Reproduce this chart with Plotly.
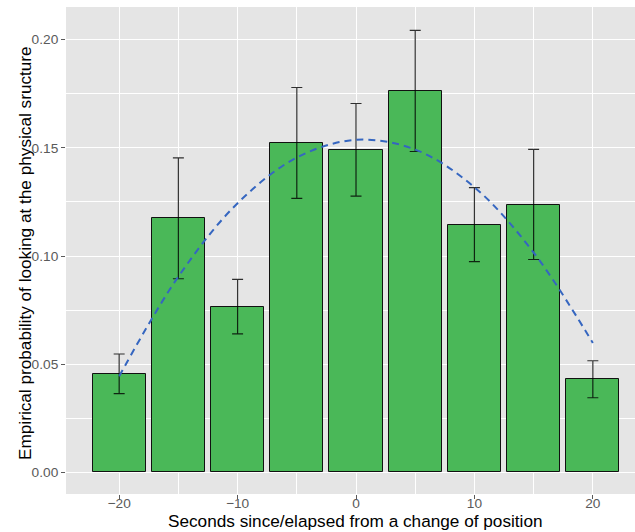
import plotly.graph_objects as go

# Time offset (seconds) relative to a change of position
seconds = [-20, -15, -10, -5, 0, 5, 10, 15, 20]
# Empirical probability of looking at the physical structure
prob = [0.0455, 0.1174, 0.0766, 0.1522, 0.1491, 0.1764, 0.1145, 0.1238, 0.0430]
# Upper / lower bounds of the error bars
err_upper = [0.0547, 0.1454, 0.0892, 0.1779, 0.1705, 0.2043, 0.1316, 0.1493, 0.0516]
err_lower = [0.0364, 0.0895, 0.0640, 0.1266, 0.1277, 0.1483, 0.0974, 0.0984, 0.0345]
# Quadratic trend (dashed curve)
trend = [0.0444, 0.0905, 0.1244, 0.1455, 0.1537, 0.1492, 0.1318, 0.1016, 0.0598]

x_ticks = [-20, -10, 0, 10, 20]
x_minor = [-15, -5, 5, 15]
y_ticks = [0.00, 0.05, 0.10, 0.15, 0.20]
y_tick_text = ["0.00", "0.05", "0.10", "0.15", "0.20"]
y_minor = [0.025, 0.075, 0.125, 0.175]

x_title = "Seconds since/elapsed from a change of position"
y_title = "Empirical probability of looking at the physical sructure"

err_plus = [u - p for u, p in zip(err_upper, prob)]
err_minus = [p - l for p, l in zip(prob, err_lower)]

FONT = "Liberation Sans, Arial, Helvetica, sans-serif"
TICK_GREY = "#5a5a5a"

fig = go.Figure()

fig.add_trace(go.Bar(
    x=seconds,
    y=prob,
    width=4.5,
    marker=dict(color="#4ab858", line=dict(color="#111111", width=1)),
    error_y=dict(
        type="data",
        symmetric=False,
        array=err_plus,
        arrayminus=err_minus,
        color="rgba(0,0,0,0.8)",
        thickness=1.2,
        width=5.5,
    ),
    hoverinfo="x+y",
))

fig.add_trace(go.Scatter(
    x=seconds,
    y=trend,
    mode="lines",
    line=dict(color="#3566c0", width=2, dash="7px,5px", shape="spline", smoothing=1.0),
    hoverinfo="skip",
))

fig.update_layout(
    width=635,
    height=532,
    margin=dict(l=66, r=0, t=7, b=38),
    paper_bgcolor="white",
    plot_bgcolor="#e5e5e5",
    showlegend=False,
    font=dict(family=FONT, color="black"),
    bargap=0,
)

# Axis titles placed as annotations relative to the plotting area
fig.add_annotation(
    text=x_title, xref="paper", yref="paper", x=0.5088, y=0,
    xanchor="center", yanchor="middle", yshift=-27, showarrow=False,
    font=dict(size=17.2, color="black", family=FONT),
)
fig.add_annotation(
    text=y_title, xref="paper", yref="paper", x=0, y=0.5,
    xanchor="center", yanchor="middle", xshift=-41, yshift=-2.5,
    textangle=-90, showarrow=False,
    font=dict(size=17.2, color="black", family=FONT),
)

fig.update_xaxes(
    range=[-24.49, 23.56],
    tickmode="array",
    tickvals=x_ticks,
    showgrid=True,
    gridcolor="white",
    gridwidth=1.2,
    minor=dict(tickmode="array", tickvals=x_minor, showgrid=True,
               gridcolor="white", gridwidth=0.6),
    zeroline=False,
    showline=False,
    ticks="outside",
    ticklen=4,
    tickwidth=1,
    tickcolor=TICK_GREY,
    ticklabelstandoff=-7,
    tickfont=dict(size=13.7, color=TICK_GREY, family=FONT),
    automargin=False,
)

fig.update_yaxes(
    range=[-0.0100, 0.2151],
    tickmode="array",
    tickvals=y_ticks,
    ticktext=y_tick_text,
    showgrid=True,
    gridcolor="white",
    gridwidth=1.2,
    minor=dict(tickmode="array", tickvals=y_minor, showgrid=True,
               gridcolor="white", gridwidth=0.6),
    zeroline=False,
    showline=False,
    ticks="outside",
    ticklen=4,
    tickwidth=1,
    tickcolor=TICK_GREY,
    tickfont=dict(size=13.7, color=TICK_GREY, family=FONT),
    automargin=False,
)

fig.write_html("out.html")
